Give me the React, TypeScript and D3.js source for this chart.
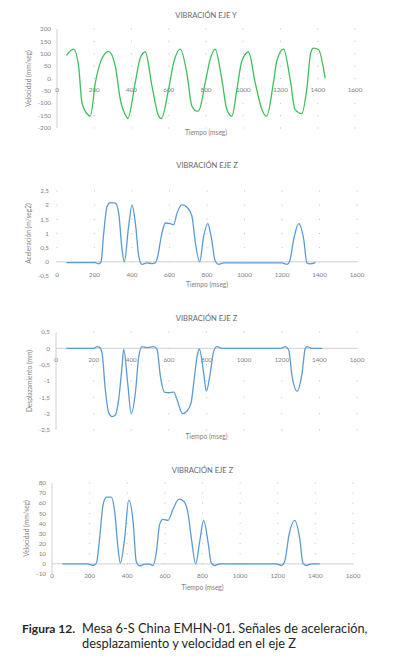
import * as d3 from "d3";

// tiempo (ms) / valor
const velYTime = [50, 89, 116, 134, 170, 179, 206, 232, 268, 277, 313, 340, 376, 380, 420, 447, 474, 510, 546, 560, 599, 626, 662, 697, 724, 751, 760, 796, 822, 849, 885, 912, 939, 966, 992, 1028, 1064, 1100, 1126, 1162, 1180, 1216, 1252, 1278, 1314, 1341, 1362, 1377, 1404, 1440];
const velYValue = [93, 119, 50, -98, -149, -152, -17, 63, 107, 110, 50, -85, -158, -162, -17, 83, 107, -31, -152, -162, -44, 63, 119, 23, -111, -132, -131, -17, 76, 119, -4, -125, -152, -44, 70, 107, -17, -125, -152, -17, 70, 119, -4, -125, -142, -44, 103, 123, 117, 0];

const accZTime = [50, 204, 222, 235, 249, 267, 284, 311, 329, 347, 359, 382, 400, 418, 436, 453, 480, 507, 524, 533, 560, 578, 604, 622, 640, 667, 693, 720, 738, 761, 782, 804, 822, 844, 862, 889, 1200, 1227, 1241, 1262, 1289, 1316, 1333, 1351, 1378];
const accZValue = [-0.03, -0.03, -0.07, 0, 1.0, 1.95, 2.09, 2.07, 1.72, 0.43, 0, 1.25, 2.0, 1.37, 0.2, -0.09, -0.04, -0.06, -0.04, 0.08, 1.02, 1.37, 1.35, 1.31, 1.72, 2.01, 1.93, 1.6, 0.67, 0, 0.9, 1.35, 0.9, 0.02, -0.09, -0.04, -0.04, -0.09, 0.02, 0.78, 1.35, 0.78, -0.04, -0.07, -0.03];

const despZTime = [55, 200, 218, 232, 245, 262, 280, 298, 315, 333, 351, 360, 381, 400, 422, 440, 457, 484, 519, 537, 555, 576, 599, 626, 643, 673, 696, 718, 732, 750, 762, 785, 799, 820, 838, 856, 882, 1193, 1219, 1237, 1255, 1281, 1308, 1325, 1334, 1361, 1414];
const despZValue = [0, 0, 0.05, 0.03, -0.15, -1.26, -1.97, -2.09, -2.05, -1.57, -0.56, -0.03, -1.06, -2, -1.36, -0.25, 0.05, 0.02, 0.05, -0.03, -0.86, -1.34, -1.36, -1.34, -1.57, -2, -1.92, -1.67, -1.06, -0.25, -0.02, -0.76, -1.31, -0.76, -0.1, 0.05, 0, 0, 0.05, -0.05, -0.86, -1.31, -0.76, 0, 0.05, 0, 0];

const velZTime = [55, 191, 218, 236, 253, 271, 289, 315, 333, 351, 363, 386, 408, 431, 448, 466, 493, 519, 537, 555, 572, 590, 617, 643, 675, 700, 723, 741, 764, 785, 806, 829, 847, 865, 891, 1193, 1219, 1237, 1260, 1290, 1317, 1334, 1352, 1379, 1423];
const velZValue = [0, 0, -1.6, 0.7, 25, 58, 66, 66, 52, 15.5, 0.7, 25, 63, 42, 2.3, -2, -0.3, -0.3, -1.6, 12, 39, 44, 43, 54, 64, 62, 50, 25, 0, 22, 43, 22, 0.7, -1.6, 0, 0, -1.6, 2.3, 29, 43, 25, 0.7, -1.6, 0, 0];

const xTicks = [0, 200, 400, 600, 800, 1000, 1200, 1400, 1600];
const velYTicks = [200, 150, 100, 50, 0, -50, -100, -150, -200];
const accZTicks = [2.5, 2, 1.5, 1, 0.5, 0, -0.5];
const despZTicks = [0.5, 0, -0.5, -1, -1.5, -2, -2.5];
const velZTicks = [80, 70, 60, 50, 40, 30, 20, 10, 0, -10];

const fmt = (v: number) => String(v).replace(".", ",");
const FONT = "Lato, 'Open Sans', sans-serif";

type PanelProps = {
  title: string;
  yTitle: string;
  time: number[];
  value: number[];
  yTicks: number[];
  yTop: number;
  yBottom: number;
  x0: number;
  x1: number;
  yLabelX: number;
  yTitleX: number;
  xLabelY: number;
  xTitleY: number;
  titleY: number;
  color: string;
  axisLine: boolean;
  zeroLine: boolean;
  gridAtZero: boolean;
};

function Panel(p: PanelProps) {
  const yMax = d3.max(p.yTicks)!;
  const yMin = d3.min(p.yTicks)!;
  const x = d3.scaleLinear().domain([0, 1600]).range([p.x0, p.x1]);
  const y = d3.scaleLinear().domain([yMin, yMax]).range([p.yBottom, p.yTop]);
  const step = Math.abs(y(p.yTicks[0]) - y(p.yTicks[1]));
  const pts = p.time.map((t, i) => [t, p.value[i]] as [number, number]);
  const line = d3
    .line<[number, number]>()
    .x((d) => x(d[0]))
    .y((d) => y(d[1]))
    .curve(d3.curveMonotoneX);
  const grid = xTicks.filter((t) => t > 0 || p.gridAtZero);
  const cx = (p.x0 + p.x1) / 2;
  return (
    <g>
      <text x={cx} y={p.titleY} textAnchor="middle" fontSize={7.6} fill="#6a6a6a" fontFamily={FONT}>
        {p.title}
      </text>
      {grid.map((t) => (
        <line
          key={t}
          x1={x(t)}
          x2={x(t)}
          y1={y(yMax) - 0.5}
          y2={y(yMin) + 0.5}
          stroke="#bfbfbf"
          strokeWidth={1}
          strokeDasharray={`1,${step - 1}`}
        />
      ))}
      {p.axisLine && (
        <line x1={p.x0} x2={p.x0} y1={y(yMax)} y2={y(yMin)} stroke="#d0d0d0" strokeWidth={1} />
      )}
      {p.zeroLine && (
        <line x1={p.x0} x2={p.x1} y1={y(0)} y2={y(0)} stroke="#d0d0d0" strokeWidth={1} />
      )}
      {p.yTicks.map((v) => (
        <text
          key={v}
          x={p.yLabelX}
          y={y(v)}
          dy="0.35em"
          textAnchor="end"
          fontSize={6.3}
          fill="#7f7f7f"
          fontFamily={FONT}
        >
          {fmt(v)}
        </text>
      ))}
      {xTicks.map((t) => (
        <text
          key={t}
          x={x(t)}
          y={p.xLabelY}
          dy="0.35em"
          textAnchor="middle"
          fontSize={6.3}
          fill="#7f7f7f"
          fontFamily={FONT}
        >
          {t}
        </text>
      ))}
      <path d={line(pts)!} fill="none" stroke={p.color} strokeWidth={1.3} />
      <text x={cx} y={p.xTitleY} dy="0.35em" textAnchor="middle" fontSize={6.6} fill="#7f7f7f" fontFamily={FONT}>
        Tiempo (mseg)
      </text>
      <text
        transform={`translate(${p.yTitleX},${(p.yTop + p.yBottom) / 2}) rotate(-90)`}
        dy="0.35em"
        textAnchor="middle"
        fontSize={6.6}
        fill="#7f7f7f"
        fontFamily={FONT}
      >
        {p.yTitle}
      </text>
    </g>
  );
}

export default function App() {
  return (
    <svg width={398} height={660} style={{ position: "absolute", left: 0, top: 0, background: "#fff" }}>
      <Panel
        title="VIBRACIÓN EJE Y"
        yTitle="Velocidad (mm/seg)"
        time={velYTime}
        value={velYValue}
        yTicks={velYTicks}
        yTop={29}
        yBottom={128}
        x0={57}
        x1={355}
        yLabelX={51}
        yTitleX={29}
        xLabelY={90}
        xTitleY={133}
        titleY={18}
        color="#3fbf5a"
        axisLine={true}
        zeroLine={false}
        gridAtZero={false}
      />
      <Panel
        title="VIBRACIÓN EJE Z"
        yTitle="Aceleración (m/seg2)"
        time={accZTime}
        value={accZValue}
        yTicks={accZTicks}
        yTop={191}
        yBottom={276}
        x0={57}
        x1={357}
        yLabelX={49}
        yTitleX={29}
        xLabelY={275}
        xTitleY={285}
        titleY={168}
        color="#5b9bd5"
        axisLine={false}
        zeroLine={true}
        gridAtZero={true}
      />
      <Panel
        title="VIBRACIÓN EJE Z"
        yTitle="Desplazamiento (mm)"
        time={despZTime}
        value={despZValue}
        yTicks={despZTicks}
        yTop={332}
        yBottom={430}
        x0={56}
        x1={357}
        yLabelX={50}
        yTitleX={30}
        xLabelY={360}
        xTitleY={437}
        titleY={321}
        color="#5b9bd5"
        axisLine={true}
        zeroLine={true}
        gridAtZero={false}
      />
      <Panel
        title="VIBRACIÓN EJE Z"
        yTitle="Velocidad (mm/seg)"
        time={velZTime}
        value={velZValue}
        yTicks={velZTicks}
        yTop={483}
        yBottom={574}
        x0={52}
        x1={353}
        yLabelX={46}
        yTitleX={27}
        xLabelY={576}
        xTitleY={588}
        titleY={473}
        color="#5b9bd5"
        axisLine={true}
        zeroLine={true}
        gridAtZero={false}
      />
      <text x={22} y={633} fontSize={12.8} fontFamily={FONT} fill="#262626">
        <tspan fontWeight="bold" fontSize={12}>Figura 12.</tspan>
        <tspan x={82}>Mesa 6-S China EMHN-01. Señales de aceleración,</tspan>
      </text>
      <text x={82} y={648} fontSize={12.8} fontFamily={FONT} fill="#262626">
        desplazamiento y velocidad en el eje Z
      </text>
    </svg>
  );
}
